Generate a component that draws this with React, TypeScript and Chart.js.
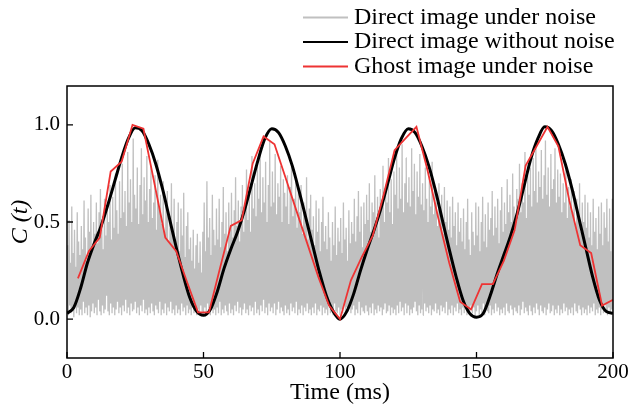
import React, { useEffect, useRef } from "react";
import { Chart, registerables } from "chart.js";

Chart.register(...registerables);

// ---- data ----
const noiseStepMs = 0.25;
const noiseValues = [
  0.04, 0.38, 0.02, 0.51, 0.07, 0.29, 0.03, 0.58, 0.05, 0.34, 0.01, 0.46, 0.08, 0.27, 0.03, 0.55, 0.06, 0.4, 0.02, 0.33,
  0.05, 0.48, 0.02, 0.36, 0.09, 0.61, 0.03, 0.42, 0.06, 0.3, 0.02, 0.57, 0.07, 0.45, 0.01, 0.64, 0.04, 0.37, 0.08, 0.5,
  0.03, 0.44, 0.06, 0.6, 0.02, 0.39, 0.1, 0.55, 0.04, 0.67, 0.02, 0.48, 0.07, 0.36, 0.03, 0.62, 0.05, 0.43, 0.12, 0.58,
  0.04, 0.5, 0.02, 0.69, 0.08, 0.41, 0.03, 0.63, 0.06, 0.47, 0.02, 0.75, 0.05, 0.56, 0.09, 0.44, 0.03, 0.71, 0.06, 0.52,
  0.02, 0.8, 0.07, 0.55, 0.04, 0.66, 0.1, 0.48, 0.03, 0.86, 0.06, 0.6, 0.02, 0.72, 0.08, 0.5, 0.04, 0.93, 0.05, 0.64,
  0.09, 0.57, 0.03, 0.78, 0.06, 0.49, 0.02, 0.69, 0.07, 0.88, 0.04, 0.54, 0.1, 0.73, 0.03, 0.61, 0.05, 0.84, 0.02, 0.5,
  0.06, 0.67, 0.03, 0.79, 0.08, 0.52, 0.04, 0.6, 0.02, 0.74, 0.07, 0.46, 0.05, 0.82, 0.03, 0.58, 0.09, 0.64, 0.02, 0.49,
  0.05, 0.71, 0.03, 0.44, 0.08, 0.59, 0.02, 0.66, 0.06, 0.4, 0.04, 0.53, 0.09, 0.7, 0.03, 0.45, 0.05, 0.62, 0.02, 0.38,
  0.07, 0.5, 0.03, 0.6, 0.05, 0.35, 0.02, 0.57, 0.08, 0.43, 0.04, 0.65, 0.06, 0.32, 0.02, 0.48, 0.07, 0.55, 0.03, 0.36,
  0.05, 0.42, 0.02, 0.3, 0.06, 0.46, 0.03, 0.26, 0.08, 0.38, 0.02, 0.44, 0.05, 0.29, 0.03, 0.4, 0.07, 0.24, 0.04, 0.45,
  0.02, 0.6, 0.06, 0.35, 0.03, 0.71, 0.08, 0.42, 0.04, 0.52, 0.02, 0.33, 0.07, 0.64, 0.03, 0.46, 0.05, 0.38, 0.02, 0.57,
  0.06, 0.41, 0.03, 0.62, 0.09, 0.37, 0.02, 0.5, 0.05, 0.68, 0.03, 0.44, 0.07, 0.55, 0.04, 0.35, 0.02, 0.6, 0.08, 0.47,
  0.03, 0.65, 0.05, 0.42, 0.02, 0.56, 0.07, 0.73, 0.04, 0.48, 0.09, 0.61, 0.03, 0.4, 0.06, 0.58, 0.02, 0.69, 0.05, 0.45,
  0.08, 0.6, 0.03, 0.77, 0.05, 0.51, 0.02, 0.66, 0.07, 0.45, 0.04, 0.84, 0.06, 0.57, 0.02, 0.7, 0.09, 0.53, 0.03, 0.8,
  0.05, 0.62, 0.02, 0.88, 0.07, 0.55, 0.04, 0.73, 0.1, 0.6, 0.03, 0.81, 0.06, 0.5, 0.02, 0.69, 0.08, 0.91, 0.04, 0.58,
  0.06, 0.76, 0.03, 0.6, 0.08, 0.85, 0.02, 0.54, 0.05, 0.7, 0.09, 0.63, 0.03, 0.79, 0.06, 0.5, 0.04, 0.72, 0.02, 0.65,
  0.07, 0.58, 0.03, 0.74, 0.05, 0.49, 0.02, 0.68, 0.08, 0.8, 0.04, 0.53, 0.06, 0.62, 0.03, 0.71, 0.09, 0.47, 0.02, 0.66,
  0.05, 0.55, 0.03, 0.69, 0.07, 0.44, 0.02, 0.6, 0.06, 0.52, 0.04, 0.73, 0.08, 0.41, 0.03, 0.57, 0.05, 0.64, 0.02, 0.46,
  0.06, 0.53, 0.03, 0.38, 0.08, 0.61, 0.02, 0.45, 0.05, 0.57, 0.04, 0.35, 0.07, 0.5, 0.02, 0.63, 0.06, 0.4, 0.03, 0.48,
  0.05, 0.36, 0.02, 0.55, 0.07, 0.42, 0.03, 0.3, 0.06, 0.5, 0.02, 0.38, 0.08, 0.58, 0.04, 0.33, 0.03, 0.47, 0.06, 0.4,
  0.02, 0.52, 0.05, 0.34, 0.03, 0.6, 0.07, 0.41, 0.02, 0.47, 0.06, 0.3, 0.04, 0.56, 0.08, 0.39, 0.03, 0.5, 0.05, 0.44,
  0.07, 0.62, 0.02, 0.4, 0.05, 0.53, 0.03, 0.66, 0.09, 0.45, 0.02, 0.58, 0.06, 0.37, 0.04, 0.6, 0.03, 0.49, 0.07, 0.64,
  0.04, 0.51, 0.02, 0.7, 0.06, 0.45, 0.03, 0.6, 0.08, 0.55, 0.02, 0.74, 0.05, 0.48, 0.03, 0.63, 0.07, 0.42, 0.04, 0.67,
  0.06, 0.58, 0.02, 0.79, 0.05, 0.5, 0.08, 0.68, 0.03, 0.6, 0.04, 0.83, 0.07, 0.55, 0.02, 0.72, 0.06, 0.49, 0.03, 0.76,
  0.05, 0.64, 0.02, 0.86, 0.07, 0.57, 0.03, 0.78, 0.09, 0.62, 0.04, 0.9, 0.06, 0.55, 0.02, 0.7, 0.08, 0.83, 0.03, 0.6,
  0.07, 0.73, 0.02, 0.58, 0.05, 0.88, 0.03, 0.66, 0.06, 0.8, 0.09, 0.54, 0.04, 0.76, 0.02, 0.63, 0.07, 0.85, 0.03, 0.59,
  0.05, 0.7, 0.02, 0.56, 0.08, 0.78, 0.04, 0.62, 0.06, 0.5, 0.03, 0.73, 0.07, 0.58, 0.02, 0.81, 0.05, 0.54, 0.04, 0.67,
  0.08, 0.6, 0.03, 0.48, 0.05, 0.7, 0.02, 0.55, 0.07, 0.64, 0.04, 0.44, 0.06, 0.68, 0.03, 0.5, 0.09, 0.61, 0.02, 0.46,
  0.05, 0.58, 0.03, 0.42, 0.07, 0.63, 0.02, 0.48, 0.06, 0.55, 0.04, 0.38, 0.08, 0.6, 0.03, 0.45, 0.05, 0.52, 0.02, 0.4,
  0.06, 0.57, 0.03, 0.36, 0.08, 0.5, 0.02, 0.62, 0.05, 0.41, 0.04, 0.33, 0.07, 0.55, 0.03, 0.45, 0.06, 0.38, 0.02, 0.6,
  0.04, 0.43, 0.07, 0.58, 0.02, 0.35, 0.05, 0.5, 0.03, 0.63, 0.08, 0.4, 0.02, 0.54, 0.06, 0.37, 0.04, 0.6, 0.03, 0.46,
  0.07, 0.52, 0.02, 0.66, 0.05, 0.43, 0.03, 0.58, 0.08, 0.47, 0.04, 0.62, 0.06, 0.39, 0.02, 0.56, 0.05, 0.68, 0.03, 0.45,
  0.06, 0.6, 0.02, 0.49, 0.08, 0.72, 0.04, 0.55, 0.03, 0.64, 0.07, 0.5, 0.05, 0.75, 0.02, 0.58, 0.06, 0.46, 0.04, 0.67,
  0.03, 0.62, 0.07, 0.8, 0.02, 0.55, 0.05, 0.7, 0.09, 0.6, 0.03, 0.86, 0.06, 0.52, 0.04, 0.74, 0.02, 0.64, 0.07, 0.78,
  0.04, 0.58, 0.02, 0.83, 0.06, 0.66, 0.03, 0.9, 0.08, 0.6, 0.05, 0.76, 0.02, 0.68, 0.07, 0.87, 0.04, 0.62, 0.03, 0.74,
  0.06, 0.92, 0.02, 0.64, 0.05, 0.78, 0.08, 0.58, 0.03, 0.85, 0.04, 0.67, 0.07, 0.72, 0.02, 0.88, 0.05, 0.6, 0.03, 0.77,
  0.07, 0.63, 0.02, 0.75, 0.05, 0.55, 0.03, 0.7, 0.08, 0.6, 0.04, 0.8, 0.06, 0.52, 0.02, 0.68, 0.05, 0.58, 0.03, 0.72,
  0.06, 0.55, 0.02, 0.66, 0.08, 0.48, 0.04, 0.62, 0.03, 0.53, 0.07, 0.7, 0.05, 0.45, 0.02, 0.6, 0.06, 0.5, 0.03, 0.64,
  0.05, 0.47, 0.02, 0.6, 0.07, 0.42, 0.03, 0.55, 0.06, 0.38, 0.04, 0.62, 0.08, 0.45, 0.02, 0.52, 0.05, 0.36, 0.03, 0.58,
  0.06, 0.44, 0.02, 0.6, 0.05, 0.38, 0.03, 0.55, 0.08, 0.47, 0.04, 0.62, 0.02, 0.4, 0.06, 0.57, 0.03, 0.35, 0.05, 0.62,
  0.04,
];

const cleanStepMs = 2.5;
const cleanValues = [
  0.03, 0.06, 0.16, 0.29, 0.39, 0.48, 0.59, 0.71, 0.83, 0.93,
  0.985, 0.97, 0.9, 0.8, 0.67, 0.52, 0.37, 0.23, 0.11, 0.04,
  0.02, 0.05, 0.14, 0.26, 0.36, 0.45, 0.56, 0.69, 0.82, 0.93,
  0.98, 0.96, 0.89, 0.79, 0.66, 0.52, 0.38, 0.24, 0.12, 0.04,
  0.0, 0.04, 0.13, 0.25, 0.36, 0.46, 0.57, 0.7, 0.83, 0.93,
  0.98, 0.96, 0.89, 0.79, 0.66, 0.51, 0.36, 0.22, 0.1, 0.03,
  0.01, 0.03, 0.12, 0.23, 0.33, 0.43, 0.55, 0.69, 0.83, 0.93,
  0.99, 0.97, 0.9, 0.8, 0.67, 0.52, 0.37, 0.22, 0.1, 0.04,
  0.03,
];

const ghostTimes = [
  4, 8, 12, 16, 20, 24, 28, 32, 36, 40, 44, 48, 52, 56, 60, 64, 68, 72, 76, 80,
  84, 88, 92, 96, 100, 104, 108, 112, 116, 120, 124, 128, 132, 136, 140, 144,
  148, 152, 156, 160, 164, 168, 172, 176, 180, 184, 188, 192, 196, 200,
];
const ghostValues = [
  0.21, 0.35, 0.42, 0.76, 0.81, 1.0, 0.98, 0.7, 0.42, 0.35, 0.19, 0.035, 0.035,
  0.26, 0.48, 0.51, 0.8, 0.94, 0.9, 0.73, 0.56, 0.39, 0.22, 0.07, 0.0, 0.2,
  0.32, 0.43, 0.64, 0.87, 0.93, 0.99, 0.77, 0.52, 0.29, 0.09, 0.05, 0.18, 0.18,
  0.3, 0.46, 0.79, 0.89, 0.99, 0.89, 0.61, 0.38, 0.34, 0.07, 0.1,
];

const xTicks = [0, 50, 100, 150, 200];
const yTicks = [0, 0.5, 1.0];
const seriesLabels = [
  "Direct image under noise",
  "Direct image without noise",
  "Ghost image under noise",
];
const seriesColors = ["#c0c0c0", "#000000", "#ee3333"];

const FONT = "'Liberation Serif', 'Times New Roman', serif";

const framePlugin = {
  id: "frameTicks",
  afterDatasetsDraw(chart: any) {
    const { ctx, chartArea, scales } = chart;
    const { left, right, top, bottom } = chartArea;
    ctx.save();
    ctx.strokeStyle = "#000";
    ctx.lineWidth = 1.5;
    ctx.strokeRect(left, top, right - left, bottom - top);
    ctx.lineWidth = 1.3;
    ctx.beginPath();
    xTicks.forEach((v) => {
      const px = scales.x.getPixelForValue(v);
      ctx.moveTo(px, bottom);
      ctx.lineTo(px, bottom - 6);
    });
    yTicks.forEach((v) => {
      const py = scales.y.getPixelForValue(v);
      ctx.moveTo(left, py);
      ctx.lineTo(left + 6, py);
    });
    ctx.stroke();
    ctx.restore();
  },
};

const legendPlugin = {
  id: "customLegend",
  afterDraw(chart: any) {
    const { ctx } = chart;
    const ds = chart.data.datasets;
    ctx.save();
    ctx.font = `24px ${FONT}`;
    ctx.textBaseline = "middle";
    ctx.textAlign = "left";
    const x0 = 303;
    const x1 = 348;
    const tx = 354;
    ds.forEach((d: any, i: number) => {
      const y = 17.5 + i * 24.5;
      ctx.strokeStyle = d.borderColor;
      ctx.lineWidth = 2;
      ctx.beginPath();
      ctx.moveTo(x0, y);
      ctx.lineTo(x1, y);
      ctx.stroke();
      ctx.fillStyle = "#000";
      ctx.fillText(d.label, tx, y);
    });
    ctx.restore();
  },
};

export default function App() {
  const canvasRef = useRef<HTMLCanvasElement | null>(null);

  useEffect(() => {
    document.body.style.margin = "0";
    const canvas = canvasRef.current;
    if (!canvas) return;

    const noisePts = noiseValues.map((v, i) => ({ x: i * noiseStepMs, y: v }));
    const cleanPts = cleanValues.map((v, i) => ({ x: i * cleanStepMs, y: v }));
    const ghostPts = ghostValues.map((v, i) => ({ x: ghostTimes[i], y: v }));

    const tickFont = { family: FONT, size: 21 };
    const titleFont = { family: FONT, size: 24 };

    const chart = new Chart(canvas, {
      type: "line",
      data: {
        datasets: [
          {
            label: seriesLabels[0],
            data: noisePts,
            borderColor: seriesColors[0],
            borderWidth: 1.3,
            pointRadius: 0,
            tension: 0.000001,
            capBezierPoints: false,
            order: 3,
          },
          {
            label: seriesLabels[1],
            data: cleanPts,
            borderColor: seriesColors[1],
            borderWidth: 3,
            pointRadius: 0,
            tension: 0.4,
            cubicInterpolationMode: "monotone",
            order: 2,
          },
          {
            label: seriesLabels[2],
            data: ghostPts,
            borderColor: seriesColors[2],
            borderWidth: 1.8,
            pointRadius: 0,
            tension: 0,
            order: 1,
          },
        ],
      },
      options: {
        responsive: false,
        animation: false,
        devicePixelRatio: 1,
        layout: { padding: { top: 86, right: 18, left: 0, bottom: 0 } },
        plugins: {
          legend: { display: false },
          tooltip: { enabled: false },
        },
        scales: {
          x: {
            type: "linear",
            min: 0,
            max: 200,
            afterBuildTicks: (s: any) => {
              s.ticks = xTicks.map((v) => ({ value: v }));
            },
            afterFit: (s: any) => {
              s.height = 53;
            },
            ticks: {
              font: tickFont,
              color: "#000",
              padding: 2,
              maxRotation: 0,
              autoSkip: false,
            },
            grid: { display: false, drawTicks: false },
            border: { display: false },
            title: {
              display: true,
              text: "Time (ms)",
              font: titleFont,
              color: "#000",
              padding: { top: 0, bottom: 4 },
            },
          },
          y: {
            type: "linear",
            min: -0.2,
            max: 1.2,
            afterBuildTicks: (s: any) => {
              s.ticks = yTicks.map((v) => ({ value: v }));
            },
            afterFit: (s: any) => {
              s.width = 67;
            },
            ticks: {
              font: tickFont,
              color: "#000",
              padding: 7,
              callback: (v: any) => Number(v).toFixed(1),
            },
            grid: { display: false, drawTicks: false },
            border: { display: false },
            title: {
              display: true,
              text: "C (t)",
              font: { family: FONT, size: 24, style: "italic" },
              color: "#000",
              padding: { top: 6, bottom: 0 },
            },
          },
        },
      },
      plugins: [framePlugin, legendPlugin],
    });

    return () => chart.destroy();
  }, []);

  return (
    <div style={{ width: 631, height: 411, background: "#fff" }}>
      <canvas ref={canvasRef} width={631} height={411} />
    </div>
  );
}
